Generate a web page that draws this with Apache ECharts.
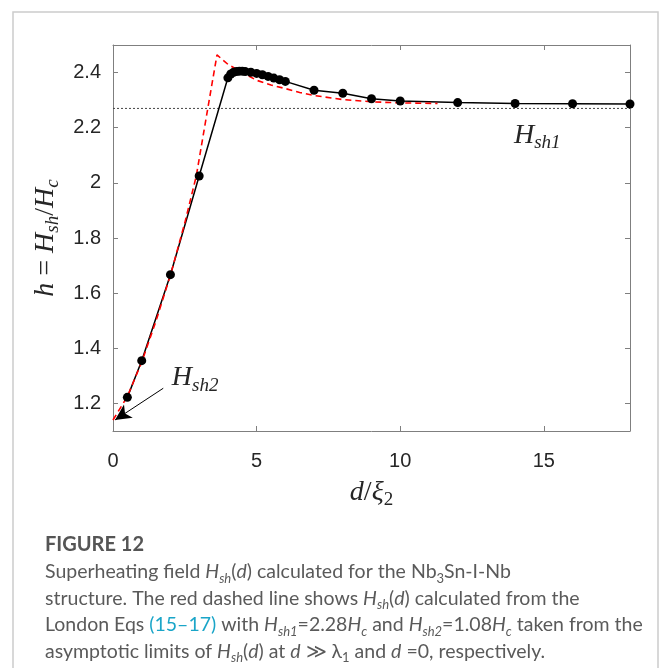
<!DOCTYPE html>
<html><head><meta charset="utf-8">
<script src="https://cdn.jsdelivr.net/npm/echarts@6/dist/echarts.min.js"></script>
<style>html,body{margin:0;padding:0;background:#fff}#c{width:672px;height:668px}</style>
</head><body><div id="c"></div>
<script>
// ---- data ----
const simD = [0.5, 1, 2, 3, 4, 4.1, 4.2, 4.3, 4.4, 4.5, 4.6, 4.8, 5.0, 5.2, 5.4, 5.6, 5.8, 6, 7, 8, 9, 10, 12, 14, 16, 18];
const simH = [1.222, 1.355, 1.667, 2.025, 2.381, 2.395, 2.401, 2.404, 2.405, 2.405, 2.404, 2.401, 2.397, 2.392, 2.386, 2.380, 2.374, 2.368, 2.336, 2.325, 2.305, 2.297, 2.291, 2.288, 2.287, 2.286];
const londonD = [0, 0.5, 1, 1.5, 2, 2.5, 2.9, 3.3, 3.62, 4, 4.5, 5, 5.5, 6, 6.5, 7, 8, 9, 10, 11.3];
const londonH = [1.14, 1.225, 1.35, 1.5, 1.665, 1.855, 2.025, 2.27, 2.464, 2.43, 2.40, 2.372, 2.355, 2.342, 2.328, 2.317, 2.302, 2.294, 2.29, 2.288];
const hsh1Level = 2.27;
const xRange = [0, 18];
const yRange = [1.1, 2.5];
const xTicks = [0, 5, 10, 15];
const yTicks = [1.2, 1.4, 1.6, 1.8, 2.0, 2.2, 2.4];
const arrowFrom = [1.75, 1.255];
const arrowTo = [0.07, 1.14];
const labelSh1At = [14.77, 2.17];
const labelSh2At = [2.86, 1.292];

const captionTitle = 'FIGURE 12';
const captionLines = [
  'Superheating field {i|H}{s|sh}({i|d}) calculated for the Nb{t|3}Sn-I-Nb',
  'structure. The red dashed line shows {i|H}{s|sh}({i|d}) calculated from the',
  'London Eqs {l|(15\u201317)} with {i|H}{s|sh1}=2.28{i|H}{s|c} and {i|H}{s|sh2}=1.08{i|H}{s|c} taken from the',
  'asymptotic limits of {i|H}{s|sh}({i|d}) at {i|d} \u226B \u03BB{t|1} and {i|d} =0, respectively.'
];

// ---- chart ----
const serif = 'Liberation Serif';
const sans = 'Liberation Sans';
const axisGray = '#7f7f7f';
const tickColor = '#262626';
const mathRich = {
  i: {fontFamily: serif, fontStyle: 'italic', fontSize: 28, lineHeight: 34, color: tickColor},
  n: {fontFamily: serif, fontSize: 28, lineHeight: 34, color: tickColor},
  s: {fontFamily: serif, fontStyle: 'italic', fontSize: 19, lineHeight: 18, verticalAlign: 'bottom', color: tickColor},
  t: {fontFamily: serif, fontSize: 19, lineHeight: 18, verticalAlign: 'bottom', color: tickColor}
};

const capColor = '#5a5a5a';
const capFont = 'Lato';
const capSize = 19.5;
const capRich = {
  i: {fontFamily: capFont, fontStyle: 'italic', fontSize: capSize, lineHeight: 26, fill: capColor},
  s: {fontFamily: capFont, fontStyle: 'italic', fontSize: 13, lineHeight: 17, verticalAlign: 'bottom', fill: capColor},
  t: {fontFamily: capFont, fontSize: 13, lineHeight: 17, verticalAlign: 'bottom', fill: capColor},
  l: {fontFamily: capFont, fontSize: capSize, lineHeight: 26, fill: '#1aa5c8'}
};
const capTop = 572, capStep = 26.5;

const chart = echarts.init(document.getElementById('c'), null, {renderer: 'canvas'});
const pair = (xs, ys) => xs.map((x, k) => [x, ys[k]]);

const commonX = {
  type: 'value', min: xRange[0], max: xRange[1],
  axisLine: {show: true, onZero: false, lineStyle: {color: axisGray, width: 1}},
  axisTick: {show: true, inside: true, length: 5, customValues: xTicks, lineStyle: {color: axisGray}},
  splitLine: {show: false}
};
const commonY = {
  type: 'value', min: yRange[0], max: yRange[1],
  axisLine: {show: true, onZero: false, lineStyle: {color: axisGray, width: 1}},
  axisTick: {show: true, inside: true, length: 5, customValues: yTicks, lineStyle: {color: axisGray}},
  splitLine: {show: false}
};

const option = {
  animation: false,
  backgroundColor: '#fff',
  grid: {left: 113, right: 42, top: 45, bottom: 237, containLabel: false},
  xAxis: [
    Object.assign({}, commonX, {
      position: 'bottom',
      axisLabel: {show: true, customValues: xTicks, margin: 20, fontFamily: sans, fontSize: 20, color: tickColor},
      name: '{i|d}{n|/}{i|\u03BE}{t|2}',
      nameLocation: 'middle', nameGap: 45,
      nameTextStyle: {rich: mathRich}
    }),
    Object.assign({}, commonX, {position: 'top', axisLabel: {show: false}})
  ],
  yAxis: [
    Object.assign({}, commonY, {
      position: 'left',
      axisLabel: {show: true, customValues: yTicks, margin: 12, fontFamily: sans, fontSize: 20, color: tickColor},
      name: '{i|h}{n| = }{i|H}{s|sh}{n|/}{i|H}{s|c}',
      nameLocation: 'middle', nameGap: 48, nameRotate: 90,
      nameTextStyle: {rich: mathRich}
    }),
    Object.assign({}, commonY, {position: 'right', axisLabel: {show: false}})
  ],
  series: [
    {
      name: 'asymptote', type: 'line', data: pair(xRange, [hsh1Level, hsh1Level]),
      showSymbol: false, silent: true,
      lineStyle: {color: '#444', width: 1, type: [2, 2]},
      markLine: {
        silent: true, symbol: ['none', 'arrow'], symbolSize: [12, 16],
        label: {show: false},
        lineStyle: {color: '#000', width: 1, type: 'solid'},
        data: [[{coord: arrowFrom}, {coord: arrowTo}]]
      },
      markPoint: {
        silent: true, symbol: 'circle', symbolSize: 1,
        itemStyle: {color: 'rgba(0,0,0,0)'},
        label: {show: true, position: 'inside', rich: mathRich, formatter: p => p.name},
        data: [
          {name: '{i|H}{s|sh1}', coord: labelSh1At},
          {name: '{i|H}{s|sh2}', coord: labelSh2At}
        ]
      }
    },
    {
      name: 'simulation', type: 'line', data: pair(simD, simH),
      symbol: 'circle', symbolSize: 9, showAllSymbol: true,
      itemStyle: {color: '#000'},
      lineStyle: {color: '#000', width: 1.5}
    },
    {
      name: 'London', type: 'line', data: pair(londonD, londonH),
      showSymbol: false,
      lineStyle: {color: '#ff0000', width: 1.6, type: [6, 4]}
    }
  ],
  graphic: [
    {type: 'rect', silent: true, shape: {x: 13, y: 12, width: 645, height: 720},
     style: {fill: 'none', stroke: '#cccccc', lineWidth: 1.5}},
    {type: 'text', x: 45, y: 545, silent: true,
     style: {text: captionTitle, fontFamily: capFont, fontWeight: 'bold', fontSize: 20, fill: '#555', verticalAlign: 'middle'}}
  ].concat(captionLines.map((t, k) => ({
    type: 'text', x: 45, y: capTop + k * capStep, silent: true,
    style: {text: t, fontFamily: capFont, fontSize: capSize, lineHeight: 26, fill: capColor, verticalAlign: 'middle', rich: capRich}
  })))
};
chart.setOption(option);
</script>
</body></html>
